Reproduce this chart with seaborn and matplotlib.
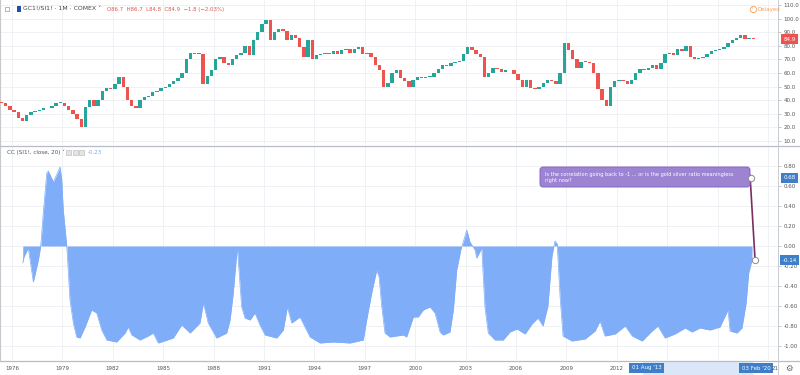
import matplotlib
matplotlib.use("Agg")
import matplotlib.pyplot as plt
import matplotlib.transforms as mtrans
from matplotlib.patches import FancyBboxPatch, Rectangle
import numpy as np
import pandas as pd
import seaborn as sns

# ---------------- data ----------------
ratio_first_year = 1975.25          # start of first quarterly candle
ratio_first_open = 38.8
ratio_close = [
    38, 36, 33,                     # 1975 Q2-Q4
    31, 27, 25, 29,                 # 1976
    31, 32, 33, 34,                 # 1977
    34, 36, 38, 38,                 # 1978
    36, 33, 30, 26,                 # 1979
    20, 35, 40, 36,                 # 1980
    40, 47, 49, 48,                 # 1981
    52, 57, 50, 40,                 # 1982
    36, 34, 40, 42,                 # 1983
    43, 46, 47, 49,                 # 1984
    50, 52, 54, 56,                 # 1985
    60, 70, 75, 74,                 # 1986
    74, 52, 58, 62,                 # 1987
    70, 72, 67, 66,                 # 1988
    70, 73, 75, 80,                 # 1989
    73, 84, 90, 96,                 # 1990
    99, 84, 90, 92,                 # 1991
    91, 84, 88, 86,                 # 1992
    79, 72, 84, 70,                 # 1993
    73, 74, 75, 74,                 # 1994
    76, 74, 77, 78,                 # 1995
    75, 78, 79, 74,                 # 1996
    75, 72, 66, 62,                 # 1997
    50, 53, 60, 62,                 # 1998
    56, 54, 50, 55,                 # 1999
    57, 56, 57, 57,                 # 2000
    60, 63, 66, 65,                 # 2001
    67, 68, 69, 74,                 # 2002
    79, 77, 74, 72,                 # 2003
    57, 60, 64, 63,                 # 2004
    61, 62, 62, 59,                 # 2005
    55, 50, 55, 49,                 # 2006
    48, 50, 53, 55,                 # 2007
    54, 52, 60, 82,                 # 2008
    77, 70, 64, 68,                 # 2009
    68, 67, 60, 48,                 # 2010
    40, 36, 50, 54,                 # 2011
    55, 54, 52, 55,                 # 2012
    60, 63, 62, 64,                 # 2013
    66, 63, 67, 74,                 # 2014
    75, 73, 78, 76,                 # 2015
    80, 72, 70, 71,                 # 2016
    72, 74, 76, 77,                 # 2017
    78, 79, 82, 84,                 # 2018
    86, 88, 85, 86,                 # 2019
    84.9,                           # 2020 Q1 (Feb)
]

cc_year = [
    1976.64, 1976.71, 1976.97, 1977.27, 1977.57, 1977.71, 1977.86, 1978.07,
    1978.16, 1978.46, 1978.76, 1978.86, 1978.96, 1979.05, 1979.26, 1979.45,
    1979.65, 1979.85, 1980.05, 1980.35, 1980.74, 1981.04, 1981.34, 1981.64,
    1982.23, 1982.73, 1982.92, 1983.13, 1983.62, 1984.11, 1984.41, 1984.71,
    1985.60, 1986.10, 1986.60, 1987.19, 1987.39, 1987.68, 1988.18, 1988.78,
    1988.98, 1989.17, 1989.41, 1989.67, 1989.87, 1990.17, 1990.46, 1990.76,
    1991.06, 1991.76, 1992.15, 1992.39, 1992.65, 1993.14, 1993.44, 1993.74,
    1994.33, 1995.13, 1996.12, 1996.91, 1997.11, 1997.41, 1997.71, 1997.85,
    1998.01, 1998.20, 1998.50, 1999.29, 1999.49, 1999.89, 2000.18, 2000.48,
    2000.88, 2001.18, 2001.48, 2001.67, 2002.07, 2002.27, 2002.47, 2002.71,
    2002.86, 2003.07, 2003.26, 2003.56, 2003.66, 2003.96, 2004.15, 2004.35,
    2004.75, 2005.24, 2005.64, 2006.06, 2006.54, 2006.95, 2007.31, 2007.61,
    2007.90, 2008.14, 2008.32, 2008.45, 2008.62, 2008.80, 2009.33, 2010.11,
    2010.71, 2011.00, 2011.30, 2011.90, 2012.50, 2012.92, 2013.51, 2014.10,
    2014.45, 2014.87, 2015.46, 2016.07, 2016.48, 2016.95, 2017.55, 2018.14,
    2018.62, 2018.74, 2019.15, 2019.45, 2019.70, 2019.85, 2020.05,
]
cc_value = [
    -0.17, -0.11, -0.02, -0.36, -0.14, 0.00, 0.33, 0.73,
    0.75, 0.64, 0.75, 0.79, 0.66, 0.36, 0.00, -0.54,
    -0.77, -0.91, -0.92, -0.81, -0.64, -0.67, -0.84, -0.94,
    -0.96, -0.87, -0.81, -0.89, -0.94, -0.90, -0.87, -0.97,
    -0.92, -0.79, -0.87, -0.77, -0.57, -0.77, -0.92, -0.87,
    -0.74, -0.47, -0.01, -0.61, -0.72, -0.74, -0.67, -0.79,
    -0.89, -0.92, -0.84, -0.61, -0.77, -0.71, -0.81, -0.91,
    -0.97, -0.96, -0.97, -0.94, -0.74, -0.47, -0.24, -0.31,
    -0.61, -0.87, -0.91, -0.89, -0.91, -0.71, -0.71, -0.64,
    -0.61, -0.67, -0.86, -0.89, -0.86, -0.64, -0.24, -0.04,
    0.04, 0.16, 0.04, -0.04, -0.12, -0.02, -0.61, -0.87,
    -0.94, -0.94, -0.86, -0.83, -0.88, -0.78, -0.72, -0.80,
    -0.60, -0.10, 0.05, 0.02, -0.50, -0.90, -0.95, -0.93,
    -0.85, -0.75, -0.90, -0.88, -0.80, -0.90, -0.95, -0.85,
    -0.80, -0.92, -0.88, -0.82, -0.86, -0.82, -0.84, -0.81,
    -0.64, -0.85, -0.87, -0.82, -0.57, -0.27, -0.14,
]

price_ticks = [10, 20, 30, 40, 50, 60, 70, 80, 90, 100, 110]
cc_ticks = [0.8, 0.6, 0.4, 0.2, 0.0, -0.2, -0.4, -0.6, -0.8, -1.0]
year_ticks = [1976, 1979, 1982, 1985, 1988, 1991, 1994, 1997, 2000, 2003,
              2006, 2009, 2012, 2015, 2018, 2021]
year_labels = ["1976", "1979", "1982", "1985", "1988", "1991", "1994", "1997",
               "2000", "2003", "2006", "2009", "2012", "2015", "2018", ""]
last_year_stub = "21"               # the part of "2021" left visible by the range label

last_close = 84.9
cc_last = -0.14
cc_note_value = 0.68
header_main = "GC1!/SI1! \u00b7 1M \u00b7 COMEX \u02c5"
header_ohlc = "O86.7  H86.7  L84.8  C84.9  \u22121.8 (\u22122.03%)"
cc_header = "CC (SI1!, close, 20) \u02c5"
cc_header_value = "-0.23"
note_lines = ["Is the correlation going back to -1 ... or is the gold silver ratio meaningless",
              "right now?"]
range_start = (2013.58, "01 Aug '13")
range_end = (2020.09, "03 Feb '20")

# ---------------- styling ----------------
sns.set_theme(style="white")
plt.rcParams["font.family"] = ["DejaVu Sans"]
plt.rcParams["axes.unicode_minus"] = False

UP = "#26a69a"
DOWN = "#ef5350"
AREA = "#7fadf8"
GRID = "#eceff3"
TXT = "#555555"
BLUE_LBL = "#3f7fc9"

W, H = 800, 375
fig = plt.figure(figsize=(W / 100, H / 100), dpi=100)
fig.patch.set_facecolor("white")


def fy(y):
    return 1 - y / H


x_left = 1976 - 12 / 16.8
x_right = 1976 + 766 / 16.8

ax_top = fig.add_axes([0, fy(145), 778 / W, 145 / H])
ax_bot = fig.add_axes([0, fy(360), 778 / W, (360 - 146) / H])

# ---- candles (quarterly) ----
df = pd.DataFrame({"close": ratio_close})
df["open"] = [ratio_first_open] + ratio_close[:-1]
df["x"] = ratio_first_year + 0.25 * np.arange(len(df)) + 0.125
df["bottom"] = df[["open", "close"]].min(axis=1)
df["height"] = (df["close"] - df["open"]).abs().clip(lower=0.5)
df["color"] = np.where(df["close"] >= df["open"], UP, DOWN)
ax_top.bar(df["x"], df["height"], bottom=df["bottom"], width=0.21,
           color=df["color"], linewidth=0, zorder=3)

ax_top.set_xlim(x_left, x_right)
ax_top.set_ylim(7.06, 113.68)
ax_top.set_yticks(price_ticks)
ax_top.set_yticklabels([f"{v:.1f}" for v in price_ticks])
ax_top.set_xticks(year_ticks)
ax_top.tick_params(axis="x", length=0, labelbottom=False)

# ---- correlation area ----
cc = pd.DataFrame({"year": cc_year, "cc": cc_value})
ax_bot.fill_between(cc["year"], cc["cc"], 0, color=AREA, linewidth=0, zorder=3)
sns.lineplot(data=cc, x="year", y="cc", ax=ax_bot, color=AREA, linewidth=0.5,
             zorder=3, estimator=None, sort=False)
ax_bot.set_xlim(x_left, x_right)
ax_bot.set_ylim(-1.14, 1.0)
ax_bot.set_yticks(cc_ticks)
ax_bot.set_yticklabels([f"{v:.2f}" for v in cc_ticks])
ax_bot.set_xticks(year_ticks)
ax_bot.set_xticklabels(year_labels)
ax_bot.set_xlabel("")
ax_bot.set_ylabel("")

for ax in (ax_top, ax_bot):
    ax.set_facecolor("white")
    ax.grid(True, color=GRID, linewidth=0.6)
    ax.set_axisbelow(True)
    ax.yaxis.tick_right()
    ax.tick_params(axis="y", length=2, width=0.5, color="#b0b0b0",
                   labelsize=4, labelcolor=TXT, pad=2)
    for s in ("top", "bottom", "left", "right"):
        ax.spines[s].set_visible(False)
    ax.spines["left"].set_visible(True)
    ax.spines["left"].set_color("#c8c8c8")
    ax.spines["left"].set_linewidth(0.8)

ax_bot.tick_params(axis="x", length=0, labelsize=4, labelcolor=TXT, pad=4)

# ---------------- overlay (pixel coordinates) ----------------
ov = fig.add_axes([0, 0, 1, 1])
ov.set_xlim(0, W)
ov.set_ylim(H, 0)
ov.axis("off")
ov.patch.set_alpha(0)
ov.set_zorder(10)

# separators
ov.plot([0, W], [145.5, 145.5], color="#b8bcc4", lw=0.9)
ov.plot([0, W], [360.5, 360.5], color="#b8bcc4", lw=0.9)
ov.plot([778, 778], [0, H], color="#c8ccd4", lw=0.7)

# x-range highlight
bx = mtrans.blended_transform_factory(ax_bot.transData, ov.transData)
ov.add_patch(Rectangle((range_start[0], 361.5), range_end[0] - range_start[0], 13.5,
                       transform=bx, facecolor="#dbe7f8", edgecolor="none", zorder=1))
for yr, lbl in (range_start, range_end):
    ov.text(yr + 0.2, 368, lbl, transform=bx, ha="center", va="center",
            fontsize=4, color="white", zorder=3,
            bbox=dict(boxstyle="square,pad=0.45", facecolor=BLUE_LBL, edgecolor="none"))
ov.text(772, 368, last_year_stub, ha="left", va="center", fontsize=4, color=TXT)
ov.text(789, 368, "\u2699", ha="center", va="center", fontsize=6, color="#666666")

# header (top pane)
ov.add_patch(Rectangle((4.5, 6.5), 4, 4, facecolor="white", edgecolor="#999999", lw=0.5))
ov.add_patch(Rectangle((17, 6), 3.5, 5.5, facecolor="#1f4fa6", edgecolor="none"))
ov.text(23, 9, header_main, ha="left", va="center", fontsize=4.4, color="#444444")
ov.text(107, 9, header_ohlc, ha="left", va="center", fontsize=3.9, color="#e0554f")

# delayed
ov.plot([752.5], [9], marker="o", markersize=4.5, mfc="white", mec="#f5a05a", mew=0.6)
ov.text(752.5, 9.2, "!", ha="center", va="center", fontsize=3, color="#f5a05a")
ov.text(757, 9, "Delayed", ha="left", va="center", fontsize=4, color="#f5a05a")

# header (bottom pane)
ov.text(7, 152, cc_header, ha="left", va="center", fontsize=4.1, color="#555555")
for i in range(3):
    ov.add_patch(Rectangle((66 + 6.5 * i, 149.5), 5, 5, facecolor="#e4e4e4",
                           edgecolor="#b5b5b5", lw=0.4))
ov.text(88, 152, cc_header_value, ha="left", va="center", fontsize=4, color="#7aaaf0")

# last price label (top) - positioned with the top pane's data scale
py_t = mtrans.blended_transform_factory(ov.transData, ax_top.transData)
ov.text(789.5, last_close, f"{last_close:.1f}", transform=py_t, ha="center", va="center",
        fontsize=4, color="white",
        bbox=dict(boxstyle="square,pad=0.5", facecolor=DOWN, edgecolor="none"))
py_b = mtrans.blended_transform_factory(ov.transData, ax_bot.transData)
for v in (cc_note_value, cc_last):
    ov.text(789.5, v, f"{v:.2f}", transform=py_b, ha="center", va="center",
            fontsize=4, color="white",
            bbox=dict(boxstyle="square,pad=0.45", facecolor=BLUE_LBL, edgecolor="none"))

# callout
ov.plot([2019.93, 2020.23], [0.71, cc_last], transform=ax_bot.transData,
        color="#7b2d60", lw=1.2, zorder=4, solid_capstyle="round")
ov.add_patch(FancyBboxPatch((540, 167), 210, 20,
                            boxstyle="round,pad=0,rounding_size=3",
                            facecolor="#9c84d2", edgecolor="#8569c2", lw=0.7, zorder=5))
ov.text(545, 174.5, note_lines[0], ha="left", va="center", fontsize=3.6,
        color="white", zorder=6)
ov.text(545, 180.5, note_lines[1], ha="left", va="center", fontsize=3.6,
        color="white", zorder=6)
ov.plot([2020.0, 2020.23], [cc_note_value, cc_last], transform=ax_bot.transData,
        linestyle="none", marker="o", markersize=4.5, mfc="white", mec="#8a8a8a",
        mew=0.7, zorder=7)

fig.savefig("out.png", dpi=100, facecolor="white")
